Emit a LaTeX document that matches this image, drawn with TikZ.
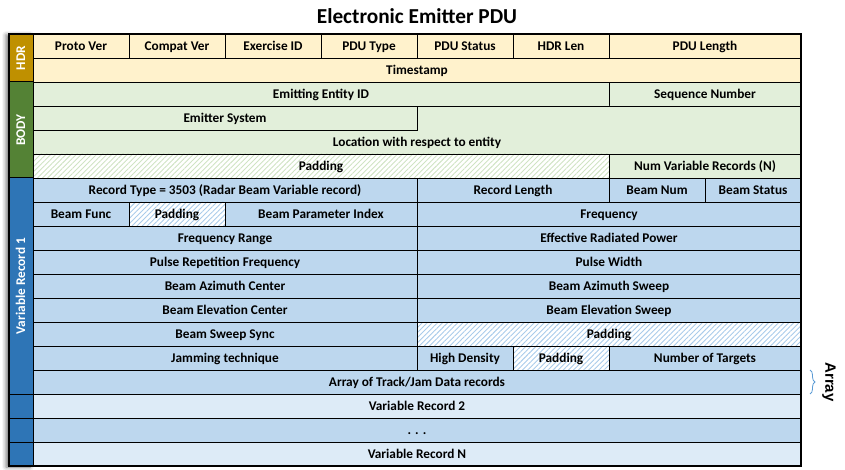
\documentclass[tikz,border=0pt]{standalone}
\usepackage{fontspec}
\setmainfont{Carlito}
\newfontfamily\arialfont{Liberation Sans}
\usetikzlibrary{patterns.meta,decorations.pathreplacing,shadows.blur}
\definecolor{hdrfill}{HTML}{FFF2CC}
\definecolor{bodyfill}{HTML}{E2EFDA}
\definecolor{recfill}{HTML}{BDD7EE}
\definecolor{reclight}{HTML}{DDEBF7}
\definecolor{hdrside}{HTML}{BF9000}
\definecolor{bodyside}{HTML}{548235}
\definecolor{recside}{HTML}{2E75B6}
\definecolor{bodyhatch}{HTML}{CFE3C3}
\definecolor{rechatch}{HTML}{A9CBEA}
\definecolor{bracecol}{HTML}{5B9BD5}
\tikzset{
  hdrcell/.style={draw=black,line width=0.8pt,fill=hdrfill},
  bodycell/.style={draw=black,line width=0.8pt,fill=bodyfill},
  reccell/.style={draw=black,line width=0.8pt,fill=recfill},
  lightcell/.style={draw=black,line width=0.8pt,fill=reclight},
  bodypad/.style={draw=black,line width=0.8pt,pattern={Lines[angle=45,distance=3.6pt,line width=0.9pt]},pattern color=bodyhatch},
  recpad/.style={draw=black,line width=0.8pt,pattern={Lines[angle=45,distance=3.6pt,line width=0.9pt]},pattern color=rechatch},
  side/.style={draw=black,line width=1pt,fill=#1},
  lbl/.style={font=\bfseries\fontsize{13.3}{15}\selectfont,inner sep=0pt,text height=10pt,text depth=1.6pt},
  sidelbl/.style={lbl,text=white,rotate=90}
}
\begin{document}
\begin{tikzpicture}[x=1pt,y=-1pt]
 \useasboundingbox (0,0) rectangle (845,470);
 \node[font=\bfseries\fontsize{21.3}{25}\selectfont] (title) at (417,16) {Electronic Emitter PDU};
 \fill[white,blur shadow={shadow xshift=-3pt,shadow yshift=-1pt,shadow blur radius=4pt,shadow opacity=55}] (9,34) rectangle (33,466);
 % header
 \draw[hdrcell] (33,34) rectangle node[lbl] (protover) {Proto Ver} (129,58);
 \draw[hdrcell] (129,34) rectangle node[lbl] (compatver) {Compat Ver} (225,58);
 \draw[hdrcell] (225,34) rectangle node[lbl] (exerid) {Exercise ID} (321,58);
 \draw[hdrcell] (321,34) rectangle node[lbl] (pdutype) {PDU Type} (417,58);
 \draw[hdrcell] (417,34) rectangle node[lbl] (pdustatus) {PDU Status} (513,58);
 \draw[hdrcell] (513,34) rectangle node[lbl] (hdrlen) {HDR Len} (609,58);
 \draw[hdrcell] (609,34) rectangle node[lbl] (pdulen) {PDU Length} (801,58);
 \draw[hdrcell] (33,58) rectangle node[lbl] (timestamp) {Timestamp} (801,82);
 % body
 \draw[bodycell] (33,82) rectangle node[lbl] (entityid) {Emitting Entity ID} (609,106);
 \draw[bodycell] (609,82) rectangle node[lbl] (seqnum) {Sequence Number} (801,106);
 \draw[bodycell] (33,106) rectangle node[lbl] (emsys) {Emitter System} (417,130);
 \draw[bodycell] (417,106) -- (801,106) -- (801,154) -- (33,154) -- (33,130) -- (417,130) -- cycle;
 \node[lbl] (location) at (417,142) {Location with respect to entity};
 \draw[bodypad] (33,154) rectangle node[lbl] (bodypadding) {Padding} (609,178);
 \draw[bodycell] (609,154) rectangle node[lbl] (numrec) {Num Variable Records (N)} (801,178);
 % variable record 1
 \draw[reccell] (33,178) rectangle node[lbl] (rectype) {Record Type = 3503 (Radar Beam Variable record)} (417,202);
 \draw[reccell] (417,178) rectangle node[lbl] (reclen) {Record Length} (609,202);
 \draw[reccell] (609,178) rectangle node[lbl] (beamnum) {Beam Num} (705,202);
 \draw[reccell] (705,178) rectangle node[lbl] (beamstatus) {Beam Status} (801,202);
 \draw[reccell] (33,202) rectangle node[lbl] (beamfunc) {Beam Func} (129,226);
 \draw[recpad] (129,202) rectangle node[lbl] (padA) {Padding} (225,226);
 \draw[reccell] (225,202) rectangle node[lbl] (beamparam) {Beam Parameter Index} (417,226);
 \draw[reccell] (417,202) rectangle node[lbl] (freq) {Frequency} (801,226);
 \draw[reccell] (33,226) rectangle node[lbl] (freqrange) {Frequency Range} (417,250);
 \draw[reccell] (417,226) rectangle node[lbl] (erp) {Effective Radiated Power} (801,250);
 \draw[reccell] (33,250) rectangle node[lbl] (prf) {Pulse Repetition Frequency} (417,274);
 \draw[reccell] (417,250) rectangle node[lbl] (pw) {Pulse Width} (801,274);
 \draw[reccell] (33,274) rectangle node[lbl] (azcenter) {Beam Azimuth Center} (417,298);
 \draw[reccell] (417,274) rectangle node[lbl] (azsweep) {Beam Azimuth Sweep} (801,298);
 \draw[reccell] (33,298) rectangle node[lbl] (elcenter) {Beam Elevation Center} (417,322);
 \draw[reccell] (417,298) rectangle node[lbl] (elsweep) {Beam Elevation Sweep} (801,322);
 \draw[reccell] (33,322) rectangle node[lbl] (sweepsync) {Beam Sweep Sync} (417,346);
 \draw[recpad] (417,322) rectangle node[lbl] (padB) {Padding} (801,346);
 \draw[reccell] (33,346) rectangle node[lbl] (jamtech) {Jamming technique} (417,370);
 \draw[reccell] (417,346) rectangle node[lbl] (highdens) {High Density} (513,370);
 \draw[recpad] (513,346) rectangle node[lbl] (padC) {Padding} (609,370);
 \draw[reccell] (609,346) rectangle node[lbl] (numtgt) {Number of Targets} (801,370);
 \draw[reccell] (33,370) rectangle node[lbl] (tjarray) {Array of Track/Jam Data records} (801,394);
 % further records
 \draw[lightcell] (33,394) rectangle node[lbl] (rec2) {Variable Record 2} (801,418);
 \draw[reccell] (33,418) rectangle node[lbl] (dots) {. . .} (801,442);
 \draw[lightcell] (33,442) rectangle node[lbl] (recN) {Variable Record N} (801,466);
 % side bar
 \draw[side=hdrside] (9,34) rectangle node[sidelbl] (hdrtag) {HDR} (33,82);
 \draw[side=bodyside] (9,82) rectangle node[sidelbl] (bodytag) {BODY} (33,178);
 \draw[side=recside] (9,178) rectangle node[sidelbl] (rectag) {Variable Record 1} (33,394);
 \draw[side=recside] (9,394) rectangle (33,418);
 \draw[side=recside] (9,418) rectangle (33,442);
 \draw[side=recside] (9,442) rectangle (33,466);
 \draw[line width=1.2pt] (9,34) rectangle (801,466);
 % array brace
 \coordinate (bracetop) at (810,370);
 \coordinate (bracebot) at (810,394);
 \draw[bracecol,line width=0.8pt,decorate,decoration={brace,amplitude=5pt}] (bracetop) -- (bracebot);
 \node[font=\arialfont\bfseries\fontsize{15}{17}\selectfont,rotate=-90,inner sep=0pt] (arraytag) at (829,382) {Array};
\end{tikzpicture}
\end{document}
